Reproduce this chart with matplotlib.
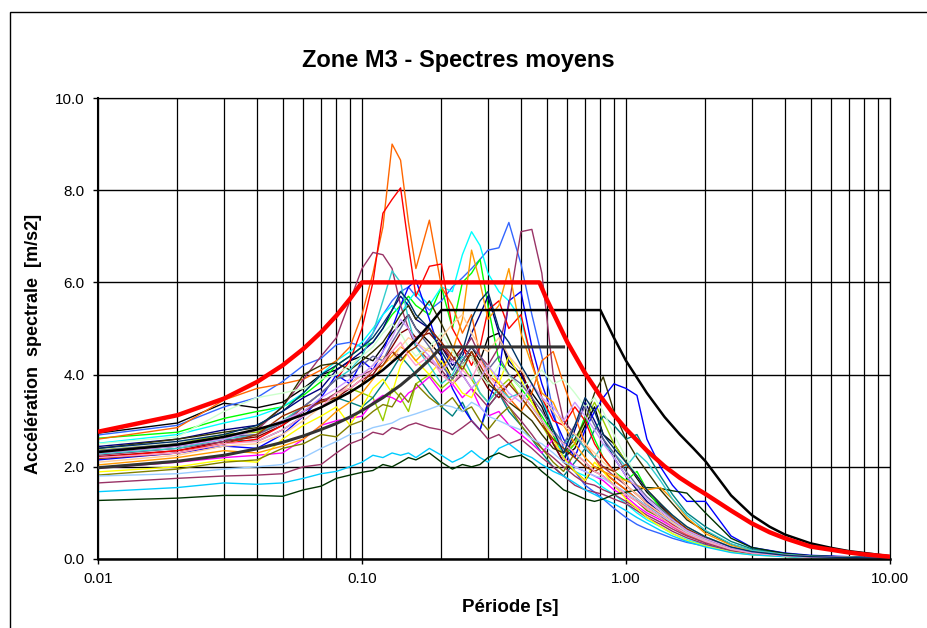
import numpy as np
import matplotlib
matplotlib.use("Agg")
import matplotlib.pyplot as plt
import matplotlib.ticker as mticker
from matplotlib.patches import Rectangle

plt.rcParams["font.family"] = ["Liberation Sans", "DejaVu Sans"]

# périodes communes aux spectres moyens [s]
periods = [0.01, 0.02, 0.03, 0.04, 0.05, 0.06, 0.07, 0.08, 0.09,
           0.10, 0.11, 0.12, 0.13, 0.14, 0.15, 0.16,
           0.18, 0.20, 0.22, 0.24, 0.26, 0.28, 0.30,
           0.33, 0.36, 0.40, 0.44, 0.48,
           0.53, 0.58, 0.64, 0.70, 0.76, 0.82, 0.90,
           1.0, 1.1, 1.2, 1.35, 1.5, 1.7, 2.0,
           2.5, 3.0, 4.0, 5.0, 7.0, 10.0]

s01 = [2.73, 2.95, 3.38, 3.28, 3.40, 3.70, 4.00, 4.10, 4.30,
       4.40, 4.30, 4.60, 4.90, 5.10, 5.30, 5.00,
       4.70, 4.40, 3.90, 4.30, 4.60, 4.30, 4.80,
       4.90, 4.20, 4.00, 3.60, 3.30,
       2.70, 2.20, 2.40, 2.90, 3.30, 2.70, 2.50,
       2.10, 1.75, 1.45, 1.15, 0.90, 0.65, 0.45,
       0.25, 0.15, 0.08, 0.05, 0.03, 0.02]
s02 = [2.69, 2.90, 3.30, 3.50, 3.85, 4.20, 4.35, 4.65, 4.70,
       4.60, 4.90, 5.30, 5.60, 5.80, 5.90, 5.70,
       5.40, 5.60, 5.90, 6.10, 6.30, 6.50, 6.70,
       6.75, 7.30, 6.40, 5.30, 4.40,
       3.20, 2.40, 1.90, 1.60, 1.45, 1.30, 1.10,
       0.90, 0.75, 0.65, 0.55, 0.45, 0.36, 0.28,
       0.16, 0.10, 0.06, 0.04, 0.03, 0.02]
s03 = [2.62, 2.75, 3.05, 3.20, 3.30, 3.55, 3.85, 4.20, 4.40,
       4.60, 4.70, 5.00, 5.30, 5.50, 5.70, 5.50,
       5.30, 5.90, 5.00, 6.00, 6.20, 6.50, 5.50,
       4.30, 4.00, 3.70, 3.40, 3.10,
       2.70, 2.20, 2.50, 3.10, 2.60, 2.20, 1.90,
       1.70, 1.90, 1.50, 1.10, 0.85, 0.60, 0.42,
       0.24, 0.14, 0.07, 0.05, 0.03, 0.02]
s04 = [2.51, 2.70, 2.95, 3.10, 3.30, 3.60, 4.00, 4.30, 4.50,
       4.70, 5.00, 5.30, 5.50, 5.30, 5.60, 5.80,
       5.50, 5.90, 5.80, 6.60, 7.10, 6.80, 6.20,
       5.80, 5.60, 5.20, 4.30, 3.50,
       2.80, 2.20, 1.90, 1.80, 1.70, 1.55, 1.40,
       1.20, 1.00, 0.85, 0.70, 0.55, 0.42, 0.30,
       0.17, 0.11, 0.06, 0.04, 0.03, 0.02]
s05 = [2.44, 2.60, 2.80, 2.90, 3.20, 3.50, 3.70, 4.10, 4.30,
       4.50, 4.70, 5.00, 5.40, 5.70, 5.50, 5.20,
       5.00, 4.60, 4.20, 4.40, 4.90, 5.30, 5.70,
       4.90, 4.30, 4.00, 3.50, 3.00,
       2.50, 2.10, 2.80, 3.40, 3.00, 2.60, 2.20,
       1.80, 1.50, 1.25, 1.00, 0.80, 0.60, 0.42,
       0.24, 0.15, 0.08, 0.05, 0.03, 0.02]
s06 = [2.36, 2.50, 2.70, 2.75, 3.00, 3.30, 3.40, 3.60, 3.70,
       3.60, 3.50, 3.00, 3.70, 3.50, 3.20, 3.80,
       4.00, 3.70, 3.90, 4.20, 3.90, 3.60, 3.40,
       3.70, 3.90, 3.50, 3.20, 2.90,
       2.50, 2.30, 2.50, 3.00, 3.40, 3.00, 2.50,
       2.10, 1.80, 1.50, 1.20, 0.95, 0.70, 0.48,
       0.26, 0.16, 0.08, 0.05, 0.03, 0.02]
s07 = [2.31, 2.45, 2.60, 2.55, 2.80, 3.10, 3.30, 3.50, 3.40,
       3.30, 3.50, 3.80, 4.10, 4.40, 4.20, 4.00,
       3.60, 3.30, 3.10, 3.40, 3.00, 2.80, 3.30,
       3.60, 3.20, 2.90, 2.60, 2.30,
       2.00, 1.80, 2.10, 2.40, 2.80, 3.10, 2.90,
       2.60, 2.70, 2.30, 1.80, 1.40, 1.00, 0.70,
       0.38, 0.22, 0.11, 0.07, 0.04, 0.02]
s08 = [2.22, 2.35, 2.55, 2.65, 2.90, 3.20, 3.45, 3.50, 3.70,
       3.90, 4.00, 4.30, 4.60, 4.90, 5.00, 4.80,
       4.90, 4.60, 4.30, 4.60, 4.40, 4.00, 3.70,
       3.50, 3.80, 4.10, 3.50, 3.00,
       2.50, 2.10, 1.90, 1.70, 2.00, 1.90, 1.70,
       1.50, 1.30, 1.15, 0.95, 0.75, 0.55, 0.38,
       0.21, 0.13, 0.07, 0.04, 0.03, 0.02]
s09 = [2.15, 2.30, 2.45, 2.40, 2.70, 3.10, 3.50, 4.00, 3.80,
       4.30, 4.10, 4.50, 5.00, 5.50, 5.90, 6.05,
       5.20, 4.40, 3.70, 3.30, 3.00, 2.80, 3.40,
       4.00, 5.60, 5.80, 4.60, 3.80,
       3.10, 2.60, 2.20, 2.80, 3.20, 3.50, 3.80,
       3.70, 3.55, 2.60, 2.00, 1.60, 1.25, 1.25,
       0.50, 0.25, 0.13, 0.08, 0.05, 0.03]
s10 = [2.60, 2.85, 3.45, 3.70, 3.80, 3.90, 4.10, 4.30, 4.60,
       5.30, 6.20, 7.20, 9.00, 8.65, 7.30, 6.30,
       7.35, 5.90, 5.50, 4.90, 5.30, 4.40, 4.00,
       3.80, 3.50, 3.20, 3.60, 4.30,
       4.50, 3.80, 3.10, 2.50, 2.20, 1.90, 1.70,
       1.50, 1.30, 1.10, 0.90, 0.70, 0.52, 0.36,
       0.20, 0.12, 0.06, 0.04, 0.03, 0.02]
s11 = [2.20, 2.35, 2.50, 2.60, 2.90, 3.30, 3.60, 3.90, 4.30,
       5.00, 6.00, 7.50, 7.80, 8.05, 6.80, 5.70,
       6.35, 6.40, 5.00, 4.60, 4.20, 4.60, 5.40,
       5.60, 5.00, 5.30, 4.30, 3.50,
       3.00, 2.90, 3.30, 3.00, 2.50, 2.20, 1.90,
       1.60, 1.40, 1.20, 0.95, 0.75, 0.55, 0.38,
       0.21, 0.13, 0.07, 0.04, 0.03, 0.02]
s12 = [1.65, 1.75, 1.80, 1.82, 1.85, 2.00, 2.05, 2.30, 2.50,
       2.60, 2.75, 2.70, 2.85, 2.80, 2.90, 2.95,
       2.85, 2.80, 2.70, 2.85, 3.00, 2.80, 2.60,
       2.70, 2.50, 2.60, 2.40, 2.20,
       2.00, 1.80, 1.60, 1.50, 1.45, 1.40, 1.30,
       1.20, 1.05, 0.90, 0.75, 0.60, 0.46, 0.32,
       0.18, 0.11, 0.06, 0.04, 0.02, 0.02]
s13 = [2.30, 2.45, 2.60, 2.80, 3.30, 3.90, 4.40, 4.80, 5.60,
       6.30, 6.65, 6.60, 6.30, 5.50, 5.00, 4.60,
       4.30, 4.10, 3.80, 4.00, 3.70, 3.50, 3.30,
       3.60, 3.30, 3.00, 2.70, 2.40,
       2.20, 2.00, 1.80, 1.65, 1.60, 1.50, 1.40,
       1.25, 1.10, 0.95, 0.80, 0.65, 0.50, 0.35,
       0.19, 0.12, 0.06, 0.04, 0.03, 0.02]
s14 = [2.25, 2.40, 2.55, 2.70, 2.95, 3.20, 3.40, 3.60, 3.80,
       4.00, 4.10, 4.30, 4.50, 4.40, 4.60, 4.80,
       5.00, 4.70, 4.30, 4.50, 4.80, 4.40, 4.20,
       4.60, 5.50, 7.10, 7.15, 6.20,
       4.00, 3.00, 2.70, 2.40, 2.20, 2.00, 1.80,
       1.60, 1.40, 1.20, 1.00, 0.80, 0.60, 0.42,
       0.23, 0.14, 0.07, 0.05, 0.03, 0.02]
s15 = [1.97, 2.10, 2.20, 2.25, 2.30, 2.60, 2.90, 3.00, 3.05,
       3.10, 3.40, 3.55, 3.50, 3.40, 3.60, 3.70,
       3.95, 3.60, 3.80, 3.50, 3.70, 3.30, 3.10,
       3.20, 2.90, 2.70, 2.50, 2.30,
       2.60, 2.20, 2.00, 1.90, 1.80, 1.70, 1.50,
       1.35, 1.15, 1.00, 0.85, 0.70, 0.55, 0.40,
       0.22, 0.13, 0.07, 0.04, 0.03, 0.02]
s16 = [1.89, 2.00, 2.15, 2.10, 2.60, 2.90, 3.10, 3.30, 2.90,
       3.30, 3.70, 3.90, 3.60, 4.20, 4.50, 4.30,
       4.00, 4.30, 3.90, 3.60, 3.50, 3.90, 4.20,
       3.80, 4.40, 3.90, 3.40, 3.00,
       2.60, 2.20, 1.90, 1.70, 2.10, 1.90, 1.60,
       1.30, 1.10, 0.90, 0.70, 0.55, 0.40, 0.28,
       0.15, 0.09, 0.05, 0.03, 0.02, 0.01]
s17 = [1.82, 1.95, 2.10, 2.15, 2.40, 2.50, 2.70, 2.65, 2.90,
       3.00, 3.20, 3.35, 3.30, 3.60, 3.40, 3.80,
       3.50, 3.30, 3.50, 3.20, 3.30, 3.00, 2.80,
       3.10, 3.30, 2.90, 2.60, 2.40,
       2.10, 1.90, 2.30, 2.10, 1.90, 1.80, 1.60,
       1.40, 1.25, 1.05, 0.90, 0.72, 0.55, 0.38,
       0.21, 0.13, 0.07, 0.04, 0.03, 0.02]
s18 = [1.80, 1.85, 1.95, 2.00, 2.05, 2.20, 2.40, 2.55, 2.70,
       2.75, 2.85, 2.90, 2.95, 3.05, 3.10, 3.15,
       3.25, 3.35, 3.30, 3.20, 3.40, 3.30, 3.10,
       3.00, 2.90, 2.80, 2.60, 2.50,
       2.30, 2.10, 2.00, 1.90, 1.80, 1.75, 1.60,
       1.45, 1.30, 1.15, 0.95, 0.78, 0.58, 0.40,
       0.22, 0.14, 0.07, 0.04, 0.03, 0.02]
s19 = [1.46, 1.55, 1.65, 1.62, 1.65, 1.75, 1.85, 1.90, 2.00,
       2.10, 2.25, 2.20, 2.30, 2.25, 2.30, 2.20,
       2.40, 2.25, 2.10, 2.20, 2.35, 2.20, 2.10,
       2.40, 2.50, 2.30, 2.20, 2.05,
       1.90, 1.80, 1.65, 1.50, 1.40, 1.30, 1.20,
       1.05, 0.90, 0.78, 0.62, 0.50, 0.38, 0.26,
       0.14, 0.09, 0.05, 0.03, 0.02, 0.01]
s20 = [1.27, 1.32, 1.38, 1.38, 1.36, 1.50, 1.58, 1.75, 1.82,
       1.88, 1.92, 2.05, 2.00, 2.10, 2.20, 2.15,
       2.30, 2.10, 1.95, 2.05, 2.00, 2.05, 2.20,
       2.30, 2.20, 2.25, 2.10, 1.90,
       1.70, 1.50, 1.40, 1.30, 1.25, 1.30, 1.40,
       1.45, 1.50, 1.55, 1.53, 1.48, 1.43, 1.00,
       0.45, 0.25, 0.12, 0.07, 0.04, 0.02]
s21 = [2.40, 2.60, 2.75, 2.85, 3.30, 4.00, 4.20, 4.25, 4.10,
       4.30, 4.50, 4.70, 5.00, 5.30, 5.50, 5.20,
       5.60, 5.10, 4.60, 4.20, 4.50, 4.10, 3.80,
       3.60, 3.40, 3.20, 3.00, 2.70,
       2.40, 2.30, 2.60, 3.00, 3.60, 3.95, 3.20,
       2.60, 2.20, 1.90, 1.50, 1.20, 0.85, 0.60,
       0.32, 0.19, 0.10, 0.06, 0.04, 0.02]
s22 = [2.04, 2.20, 2.35, 2.30, 2.45, 2.60, 2.90, 3.20, 3.40,
       3.60, 3.90, 4.20, 4.40, 4.60, 4.50, 4.30,
       4.60, 4.10, 4.50, 5.20, 6.70, 6.00, 5.20,
       5.50, 6.30, 4.90, 4.20, 3.60,
       3.40, 2.90, 2.50, 2.20, 2.00, 1.90, 1.80,
       1.70, 1.60, 1.50, 1.55, 1.30, 0.90, 0.55,
       0.30, 0.18, 0.09, 0.05, 0.03, 0.02]
s23 = [2.28, 2.40, 2.60, 2.70, 3.00, 3.30, 3.60, 3.90, 4.10,
       4.40, 4.90, 5.60, 6.25, 6.00, 5.20, 4.60,
       4.20, 3.80, 4.00, 4.40, 4.00, 3.60, 3.40,
       3.70, 3.50, 3.60, 3.30, 3.00,
       2.70, 2.50, 2.70, 2.40, 2.20, 2.50, 2.30,
       2.00, 2.30, 2.10, 1.70, 1.30, 0.95, 0.62,
       0.33, 0.19, 0.10, 0.06, 0.04, 0.02]
s24 = [2.50, 2.65, 3.20, 3.50, 3.60, 3.70, 3.90, 4.00, 4.20,
       4.40, 4.60, 4.90, 5.10, 4.90, 4.60, 4.40,
       4.60, 4.90, 4.50, 4.20, 4.40, 4.00, 3.80,
       4.20, 4.00, 3.70, 3.90, 4.10,
       3.80, 3.90, 3.60, 3.30, 3.50, 3.20, 2.70,
       2.20, 1.80, 1.50, 1.20, 0.95, 0.70, 0.48,
       0.26, 0.16, 0.08, 0.05, 0.03, 0.02]
s25 = [2.10, 2.25, 2.45, 2.50, 2.70, 3.00, 3.30, 3.50, 3.80,
       4.00, 4.20, 4.40, 4.30, 4.60, 4.80, 4.70,
       4.50, 4.80, 5.10, 5.30, 4.90, 4.60, 4.50,
       4.80, 4.40, 4.10, 3.80, 3.50,
       3.20, 2.90, 2.70, 2.50, 2.30, 2.10, 1.90,
       1.60, 1.40, 1.20, 1.00, 0.80, 0.60, 0.42,
       0.23, 0.14, 0.07, 0.04, 0.03, 0.02]
s26 = [2.35, 2.50, 2.65, 2.70, 2.95, 3.30, 3.60, 3.90, 4.00,
       4.20, 4.40, 4.30, 4.70, 5.00, 5.30, 5.00,
       4.60, 4.20, 3.90, 4.30, 4.60, 4.40, 4.10,
       4.40, 4.00, 3.80, 3.50, 3.20,
       2.80, 2.50, 2.90, 3.30, 2.90, 2.60, 2.30,
       1.90, 1.60, 1.35, 1.10, 0.85, 0.62, 0.44,
       0.24, 0.15, 0.08, 0.05, 0.03, 0.02]
s27 = [2.18, 2.30, 2.50, 2.70, 3.10, 3.30, 3.40, 3.50, 3.60,
       3.80, 4.10, 4.20, 4.50, 4.30, 4.50, 4.60,
       5.00, 4.70, 4.40, 4.10, 4.50, 4.20, 3.90,
       3.60, 3.80, 3.50, 3.20, 2.90,
       2.60, 2.40, 2.20, 2.00, 1.90, 2.00, 1.90,
       2.05, 1.80, 1.50, 1.20, 0.90, 0.65, 0.45,
       0.25, 0.15, 0.08, 0.05, 0.03, 0.02]
s28 = [2.20, 2.30, 2.50, 2.55, 2.80, 3.10, 3.30, 3.60, 3.70,
       3.90, 4.10, 4.30, 4.50, 4.70, 4.40, 4.20,
       4.40, 4.00, 3.80, 4.10, 3.90, 4.30, 4.00,
       3.70, 3.40, 3.60, 3.30, 3.00,
       2.70, 2.50, 2.30, 2.10, 1.90, 1.80, 1.60,
       1.40, 1.25, 1.10, 0.90, 0.72, 0.55, 0.38,
       0.21, 0.13, 0.07, 0.04, 0.03, 0.02]
s29 = [2.30, 2.45, 2.60, 2.80, 3.00, 3.20, 3.50, 3.70, 3.90,
       4.00, 4.20, 4.50, 4.80, 5.20, 5.00, 4.70,
       4.40, 4.10, 4.30, 4.00, 3.70, 3.90, 4.20,
       3.90, 3.60, 3.40, 3.80, 3.50,
       3.30, 3.00, 3.40, 3.10, 2.80, 2.50, 2.20,
       1.80, 1.55, 1.30, 1.05, 0.85, 0.62, 0.44,
       0.24, 0.15, 0.08, 0.05, 0.03, 0.02]
s30 = [2.40, 2.55, 2.70, 2.90, 3.20, 3.60, 4.00, 4.20, 4.40,
       4.60, 4.80, 5.10, 5.40, 5.80, 5.60, 5.30,
       5.00, 4.50, 4.10, 4.50, 5.20, 5.60, 5.80,
       5.00, 4.70, 4.20, 3.80, 3.40,
       2.80, 2.30, 2.90, 3.50, 3.20, 2.70, 2.40,
       2.10, 1.80, 1.50, 1.20, 0.95, 0.70, 0.48,
       0.26, 0.16, 0.08, 0.05, 0.03, 0.02]

spectra = [s01, s02, s03, s04, s05, s06, s07, s08, s09, s10,
           s11, s12, s13, s14, s15, s16, s17, s18, s19, s20,
           s21, s22, s23, s24, s25, s26, s27, s28, s29, s30]
colors = ["#000000", "#3366FF", "#00FF00", "#00FFFF", "#000080",
          "#99CC00", "#008080", "#800000", "#0000FF", "#FF6600",
          "#FF0000", "#993366", "#993366", "#993366", "#FF00FF",
          "#FFFF00", "#808000", "#99CCFF", "#00CCFF", "#003300",
          "#333300", "#FF9900", "#33CCCC", "#CCFFCC", "#FFCC99",
          "#666699", "#993300", "#FF99CC", "#CC99FF", "#003366"]

# spectres de dimensionnement
red_T = [0.01, 0.02, 0.03, 0.04, 0.05, 0.06, 0.07, 0.08, 0.09, 0.10,
         0.47, 0.5, 0.6, 0.7, 0.8, 0.9, 1.0, 1.2, 1.4, 1.6, 1.8, 2.0,
         2.25, 2.5, 3.0, 3.5, 4.0, 5.0, 6.0, 7.0, 8.0, 10.0]
red_sa = [2.76, 3.12, 3.48, 3.84, 4.20, 4.56, 4.92, 5.28, 5.64, 6.00,
          6.00, 5.64, 4.70, 4.03, 3.53, 3.13, 2.82, 2.35, 2.01, 1.76, 1.57, 1.41,
          1.22, 1.05, 0.77, 0.58, 0.45, 0.27, 0.20, 0.14, 0.10, 0.05]

black_T = [0.01, 0.02, 0.03, 0.04, 0.05, 0.06, 0.07, 0.08, 0.09, 0.10,
           0.12, 0.14, 0.16, 0.18, 0.20, 0.80, 0.9, 1.0, 1.2, 1.4, 1.6,
           1.8, 2.0, 2.5, 3.0, 3.5, 4.0, 5.0, 6.0, 7.0, 8.0, 10.0]
black_sa = [2.32, 2.48, 2.65, 2.81, 2.97, 3.13, 3.29, 3.46, 3.62, 3.78,
            4.10, 4.43, 4.75, 5.08, 5.40, 5.40, 4.80, 4.30, 3.60, 3.08, 2.70,
            2.40, 2.12, 1.38, 0.95, 0.70, 0.53, 0.34, 0.24, 0.17, 0.13, 0.06]

grey_T = [0.01, 0.02, 0.03, 0.04, 0.05, 0.06, 0.07, 0.08, 0.09, 0.10,
          0.12, 0.14, 0.16, 0.18, 0.20, 0.58]
grey_sa = [1.98, 2.12, 2.25, 2.39, 2.53, 2.67, 2.81, 2.94, 3.08, 3.22,
           3.50, 3.77, 4.05, 4.32, 4.60, 4.60]

x_ticks = [0.01, 0.1, 1.0, 10.0]
x_tick_labels = ["0.01", "0.10", "1.00", "10.00"]
y_ticks = [0, 2, 4, 6, 8, 10]
y_tick_labels = ["0.0", "2.0", "4.0", "6.0", "8.0", "10.0"]

W, H = 928, 628
fig = plt.figure(figsize=(W / 100, H / 100), dpi=100)
ax = fig.add_axes([98 / W, 1 - 559 / H, (890 - 98) / W, (559 - 98) / H])

for sa, c in zip(spectra, colors):
    ax.plot(periods, sa, color=c, lw=1.0, zorder=2)

ax.plot(grey_T, grey_sa, color="#333333", lw=2.2, zorder=3)
ax.plot(black_T, black_sa, color="black", lw=1.8, zorder=4)
ax.plot(red_T, red_sa, color="#FF0000", lw=3.2, zorder=5, solid_capstyle="butt")

ax.set_xscale("log")
ax.set_xlim(0.01, 10)
ax.set_ylim(0, 10)
ax.set_xticks(x_ticks)
ax.set_xticklabels(x_tick_labels)
ax.xaxis.set_minor_locator(mticker.LogLocator(base=10, subs=np.arange(2, 10), numticks=50))
ax.xaxis.set_minor_formatter(mticker.NullFormatter())
ax.set_yticks(y_ticks)
ax.set_yticklabels(y_tick_labels)

ax.set_axisbelow(True)
ax.grid(True, which="both", axis="x", color="black", lw=0.9)
ax.grid(True, which="major", axis="y", color="black", lw=1.0)
ax.tick_params(axis="both", which="major", direction="out", length=3.5, width=1,
               labelsize=11, pad=6)
ax.tick_params(axis="x", which="minor", length=0)

for side in ["top", "right"]:
    ax.spines[side].set_linewidth(0.9)
ax.spines["bottom"].set_linewidth(1.8)
ax.spines["left"].set_linewidth(1.5)

fig.text(458 / W, 1 - 61 / H, "Zone M3 - Spectres moyens", ha="center", va="center",
         fontsize=17, fontweight="bold")
fig.text(34 / W, 1 - 344 / H, "Accélération  spectrale  [m/s2]", ha="center", va="center",
         rotation=90, fontsize=13, fontweight="bold")
fig.text(510 / W, 1 - 608 / H, "Période [s]", ha="center", va="center",
         fontsize=13.5, fontweight="bold")

# cadre extérieur (coupé à droite et en bas)
fig.patches.append(Rectangle((10 / W, -0.1), 1.2, 1.1 - 12 / H, transform=fig.transFigure,
                             fill=False, edgecolor="black", lw=1.0))

fig.savefig("out.png", dpi=100)
